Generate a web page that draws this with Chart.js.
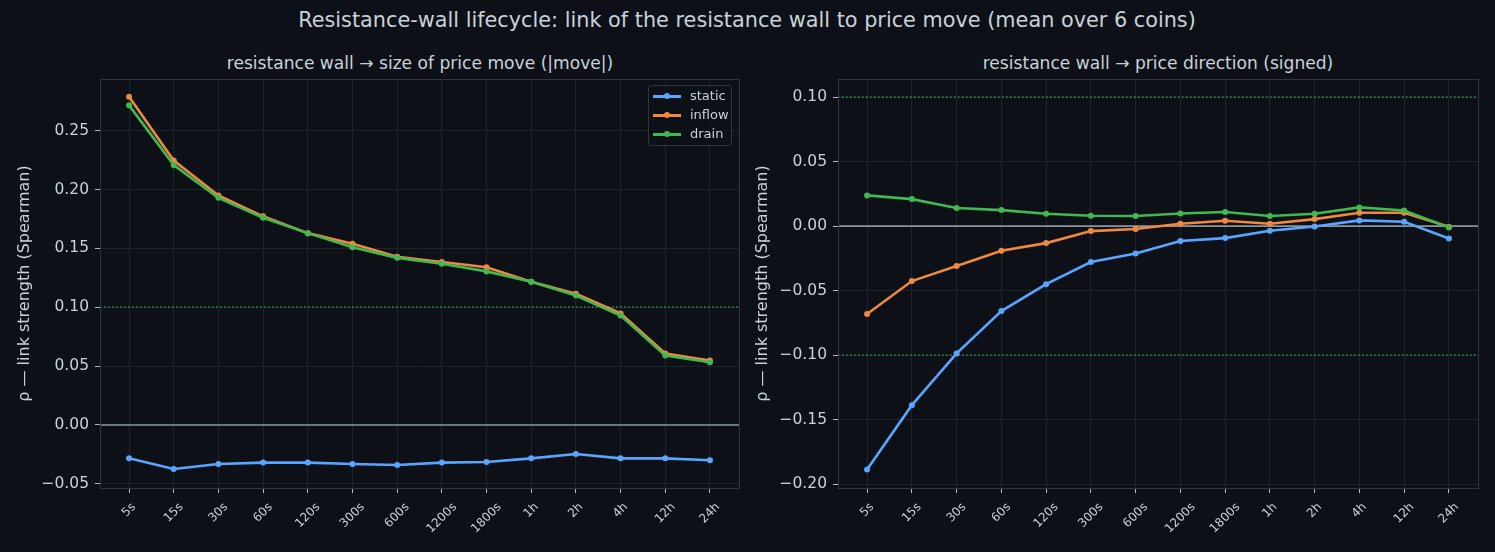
<!DOCTYPE html>
<html>
<head>
<meta charset="utf-8">
<title>Resistance-wall lifecycle</title>
<script src="https://cdn.jsdelivr.net/npm/chart.js@4/dist/chart.umd.min.js"></script>
<style>
    body {
        margin: 0;
        width: 1495px;
        height: 552px;
        overflow: hidden;
        position: relative;
        background: #0d1117;
        color: #c9d1d9;
        font-family: "DejaVu Sans", sans-serif;
    }
    canvas { position: absolute; top: 0; }
    .title { position: absolute; white-space: nowrap; transform: translate(-50%, -50%); }
    #suptitle { left: 747px; top: 20px; font-size: 20.8px; }
    .subtitle { top: 63px; font-size: 17.1px; }
    .legend {
        position: absolute;
        left: 648px; top: 85px; width: 82px; height: 59px;
        border: 1px solid #30363d;
        border-radius: 3px;
        background: rgba(13, 17, 23, 0.85);
        font-size: 13px;
    }
    .legend .row { position: absolute; left: 0; height: 18px; line-height: 18px; }
    .legend .mark { position: absolute; left: 4px; top: 8px; width: 28px; height: 2.5px; }
    .legend .dot { position: absolute; left: 11px; top: -2px; width: 6px; height: 6px; border-radius: 50%; }
    .legend .txt { position: absolute; left: 41px; top: 0; }
</style>
</head>
<body>
<div id="suptitle" class="title">Resistance-wall lifecycle: link of the resistance wall to price move (mean over 6 coins)</div>
<div class="title subtitle" style="left: 420px;">resistance wall → size of price move (|move|)</div>
<div class="title subtitle" style="left: 1158px;">resistance wall → price direction (signed)</div>

<canvas id="chartSize" width="750" height="552" style="left: 0;"></canvas>
<canvas id="chartDir" width="745" height="552" style="left: 750px;"></canvas>

<div class="legend" id="legend"></div>

<script>
// Horizontes de tiempo (eje X).
const horizons = ['5s', '15s', '30s', '60s', '120s', '300s', '600s', '1200s', '1800s', '1h', '2h', '4h', '12h', '24h'];

// Panel izquierdo: tamaño del movimiento (|move|).
const sizeStatic = [-0.0284, -0.0375, -0.0332, -0.0320, -0.0320, -0.0332, -0.0340, -0.0320, -0.0315, -0.0284, -0.0247, -0.0284, -0.0284, -0.0300];
const sizeInflow = [0.279, 0.2247, 0.195, 0.1773, 0.163, 0.154, 0.143, 0.1385, 0.134, 0.1217, 0.1115, 0.0948, 0.0607, 0.0548];
const sizeDrain = [0.2716, 0.2208, 0.193, 0.176, 0.163, 0.151, 0.142, 0.137, 0.1305, 0.1217, 0.110, 0.093, 0.059, 0.0533];

// Panel derecho: dirección del precio (con signo).
const dirStatic = [-0.1886, -0.1388, -0.0987, -0.0659, -0.045, -0.0279, -0.0212, -0.0116, -0.0093, -0.0036, -0.0003, 0.0044, 0.0034, -0.0096];
const dirInflow = [-0.0682, -0.0426, -0.031, -0.0191, -0.0132, -0.0039, -0.0023, 0.0018, 0.0041, 0.0018, 0.0054, 0.0103, 0.0103, -0.0005];
const dirDrain = [0.0238, 0.0209, 0.014, 0.0124, 0.0096, 0.008, 0.0078, 0.0098, 0.0109, 0.0078, 0.0096, 0.0145, 0.0121, -0.001];

// Marcas del eje Y y líneas de referencia.
const sizeTicks = [-0.05, 0.00, 0.05, 0.10, 0.15, 0.20, 0.25];
const dirTicks = [-0.20, -0.15, -0.10, -0.05, 0.00, 0.05, 0.10];
const sizeRefs = [0.1];
const dirRefs = [0.1, -0.1];

// Series y colores.
const seriesNames = ['static', 'inflow', 'drain'];
const seriesColors = ['#58a6ff', '#f0883e', '#3fb950'];

const TEXT = '#c9d1d9';
const GRID = '#1f242c';
const SPINE = '#30363d';

// Formato de números al estilo matplotlib (signo menos tipográfico).
const fmt = (v) => (v < 0 ? '\u2212' : '') + Math.abs(v).toFixed(2);

// Plugin: líneas de referencia, marco del área y etiquetas X giradas.
const framePlugin = {
    id: 'frame',
    beforeDatasetsDraw(chart, args, opts) {
        const { ctx, chartArea: a, scales: { y } } = chart;
        ctx.save();
        // Líneas punteadas verdes.
        ctx.strokeStyle = '#3fb950';
        ctx.globalAlpha = 0.8;
        ctx.lineWidth = 1.5;
        ctx.setLineDash([1.5, 2.5]);
        opts.refs.forEach((v) => {
            const py = Math.round(y.getPixelForValue(v));
            ctx.beginPath();
            ctx.moveTo(a.left, py);
            ctx.lineTo(a.right, py);
            ctx.stroke();
        });
        // Línea del cero.
        ctx.globalAlpha = 1;
        ctx.setLineDash([]);
        ctx.strokeStyle = '#8b949e';
        ctx.lineWidth = 1.6;
        const pz = y.getPixelForValue(0);
        ctx.beginPath();
        ctx.moveTo(a.left, pz);
        ctx.lineTo(a.right, pz);
        ctx.stroke();
        ctx.restore();
    },
    afterDraw(chart) {
        const { ctx, chartArea: a, scales: { x } } = chart;
        ctx.save();
        ctx.strokeStyle = SPINE;
        ctx.lineWidth = 1;
        ctx.strokeRect(Math.round(a.left) + 0.5, Math.round(a.top) + 0.5, Math.round(a.right - a.left), Math.round(a.bottom - a.top));
        // Etiquetas del eje X rotadas 45° y centradas en la marca.
        ctx.font = '12px "DejaVu Sans"';
        ctx.fillStyle = TEXT;
        ctx.textAlign = 'center';
        ctx.textBaseline = 'middle';
        horizons.forEach((label, i) => {
            const w = ctx.measureText(label).width;
            const h = (w + 8.8) * Math.SQRT1_2;
            ctx.save();
            ctx.translate(x.getPixelForValue(i), a.bottom + 14 + h / 2);
            ctx.rotate(-Math.PI / 4);
            ctx.fillText(label, 0, 0);
            ctx.restore();
        });
        ctx.restore();
    }
};

// Crea uno de los dos paneles.
const lineChart = (canvas, values, ticks, refs, yMin, yMax, axisWidth, padRight, titlePad) => {
    new Chart(document.getElementById(canvas), {
        type: 'line',
        data: {
            datasets: values.map((serie, k) => ({
                label: seriesNames[k],
                data: serie.map((v, i) => ({ x: i, y: v })),
                borderColor: seriesColors[k],
                backgroundColor: seriesColors[k],
                borderWidth: 2.6,
                pointRadius: 3,
                pointBorderWidth: 0,
                tension: 0,
                order: 2 - k     // drain encima, static debajo.
            }))
        },
        options: {
            responsive: false,
            animation: false,
            devicePixelRatio: 1,
            layout: { padding: { top: 79, right: padRight, bottom: 0, left: 0 } },
            plugins: {
                legend: { display: false },
                tooltip: { enabled: false },
                frame: { refs: refs }
            },
            scales: {
                x: {
                    type: 'linear',
                    min: -0.65,
                    max: horizons.length - 1 + 0.65,
                    afterBuildTicks: (s) => { s.ticks = horizons.map((_, i) => ({ value: i })); },
                    afterFit: (s) => { s.height = 64; },
                    ticks: { display: false },
                    grid: { color: GRID, tickColor: '#b1bac4', tickLength: 5, drawTicks: true },
                    border: { display: false }
                },
                y: {
                    min: yMin,
                    max: yMax,
                    afterBuildTicks: (s) => { s.ticks = ticks.map((v) => ({ value: v })); },
                    afterFit: (s) => { s.width = axisWidth; },
                    ticks: {
                        color: TEXT,
                        font: { family: 'DejaVu Sans', size: 15.5 },
                        padding: 6,
                        callback: (v) => fmt(v)
                    },
                    grid: { color: GRID, tickColor: '#b1bac4', tickLength: 5, drawTicks: true },
                    border: { display: false },
                    title: {
                        display: true,
                        text: 'ρ — link strength (Spearman)',
                        color: TEXT,
                        font: { family: 'DejaVu Sans', size: 16 },
                        padding: { top: titlePad, bottom: 0 }
                    }
                }
            }
        },
        plugins: [framePlugin]
    });
};

lineChart('chartSize', [sizeStatic, sizeInflow, sizeDrain], sizeTicks, sizeRefs, -0.0536, 0.294, 100, 11, 15);
lineChart('chartDir', [dirStatic, dirInflow, dirDrain], dirTicks, dirRefs, -0.203, 0.114, 88, 17, 3);

// Leyenda del panel izquierdo.
const legend = document.getElementById('legend');
seriesNames.forEach((name, k) => {
    const row = document.createElement('div');
    row.className = 'row';
    row.style.top = (1 + k * 19) + 'px';
    row.innerHTML = '<div class="mark" style="background:' + seriesColors[k] + '"><div class="dot" style="background:' + seriesColors[k] + '"></div></div>' +
        '<div class="txt">' + name + '</div>';
    legend.appendChild(row);
});
</script>
</body>
</html>
